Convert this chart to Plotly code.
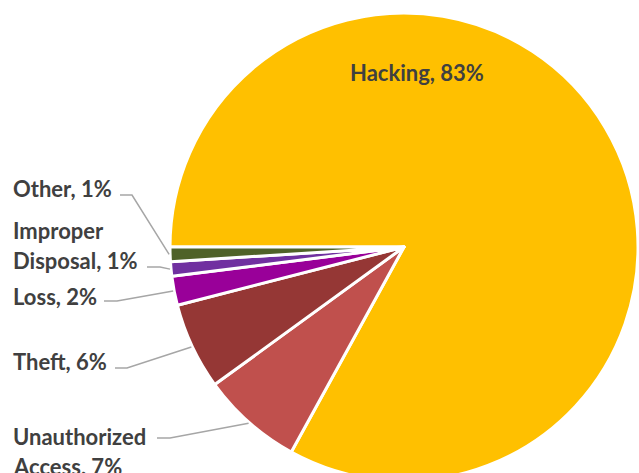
import math
import plotly.graph_objects as go

# ---- data ----
categories = ["Hacking", "Unauthorized Access", "Theft", "Loss", "Improper Disposal", "Other"]
values = [83, 7, 6, 2, 1, 1]
colors = ["#FFC000", "#C0504D", "#953735", "#990099", "#7030A0", "#4F6228"]

# ---- layout constants (pixels) ----
W, H = 639, 490
CX, CY, R = 404, 247, 234
TEXT_COLOR = "#404040"
FONT = "Lato"
FSIZE = 22

def to_paper(x, y):
    return x / W, 1 - y / H

# label layout: first line y (px), elbow x (px), horizontal start x (px), leader y (px)
label_layout = {
    "Unauthorized Access": dict(y=436, lines=2, start=157, elbow=170, ly=438),
    "Theft": dict(y=361, lines=1, start=115, elbow=127, ly=368),
    "Loss": dict(y=296, lines=1, start=104, elbow=117, ly=301),
    "Improper Disposal": dict(y=230, lines=2, start=147, elbow=160, ly=267),
    "Other": dict(y=189, lines=1, start=120, elbow=132, ly=195),
}

fig = go.Figure(go.Pie(
    labels=categories,
    values=values,
    sort=False,
    direction="clockwise",
    rotation=270,
    marker=dict(colors=colors, line=dict(color="white", width=3)),
    textinfo="none",
    hoverinfo="label+percent",
    showlegend=False,
    domain=dict(x=[(CX - R) / W, (CX + R) / W], y=[1 - (CY + R) / H, 1 - (CY - R) / H]),
))

annotations = []
shapes = []
total = sum(values)
cum = 0.0
for cat, val in zip(categories, values):
    start_ang = 270 + cum / total * 360
    cum += val
    end_ang = 270 + cum / total * 360
    mid = math.radians((start_ang + end_ang) / 2)
    text = f"{cat}, {round(val / total * 100)}%"
    if cat == "Hacking":
        px, py = to_paper(417, 72)
        annotations.append(dict(x=px, y=py, xref="paper", yref="paper", text=text,
                                showarrow=False, xanchor="center", yanchor="middle",
                                font=dict(family=FONT, size=FSIZE, color=TEXT_COLOR, weight="bold")))
        continue
    lay = label_layout[cat]
    if lay["lines"] == 2:
        first, rest = text.split(" ", 1)
        lines = [first, rest]
    else:
        lines = [text]
    for i, ln in enumerate(lines):
        px, py = to_paper(11, lay["y"] + i * 30)
        annotations.append(dict(x=px, y=py, xref="paper", yref="paper", text=ln,
                                showarrow=False, xanchor="left", yanchor="middle",
                                font=dict(family=FONT, size=FSIZE, color=TEXT_COLOR, weight="bold")))
    ax = CX + (R + 1) * math.sin(mid)
    ay = CY - (R + 1) * math.cos(mid)
    p0 = to_paper(lay["start"], lay["ly"])
    p1 = to_paper(lay["elbow"], lay["ly"])
    p2 = to_paper(ax, ay)
    shapes.append(dict(type="path", xref="paper", yref="paper",
                       path=f"M {p0[0]} {p0[1]} L {p1[0]} {p1[1]} L {p2[0]} {p2[1]}",
                       line=dict(color="#A6A6A6", width=1.5)))

fig.update_layout(
    width=W, height=H,
    margin=dict(l=0, r=0, t=0, b=0),
    paper_bgcolor="white",
    plot_bgcolor="white",
    annotations=annotations,
    shapes=shapes,
)

fig.write_html("out.html",
               config={"displayModeBar": False},
               post_script="document.body.style.margin='0';document.body.style.overflow='hidden';document.documentElement.style.overflow='hidden';")
